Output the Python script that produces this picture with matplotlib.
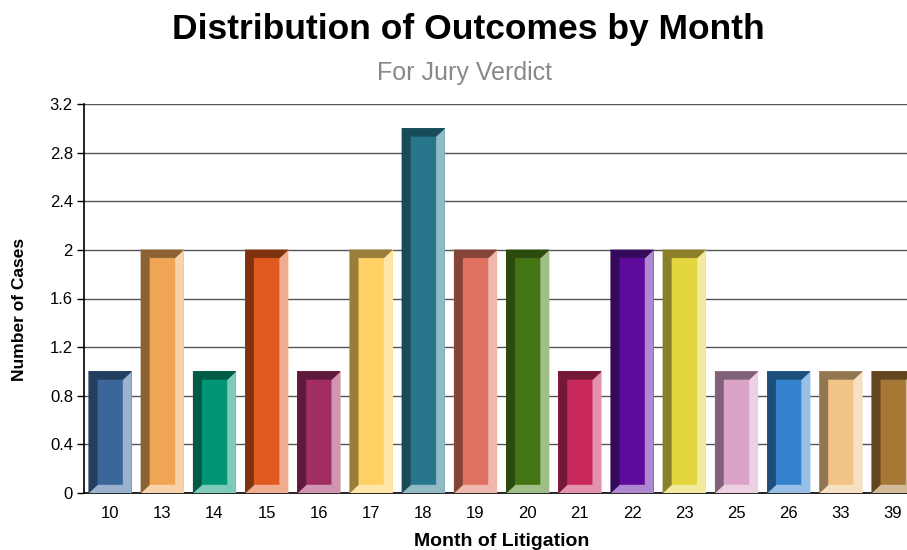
import matplotlib
matplotlib.use("Agg")
import matplotlib.pyplot as plt
from matplotlib.patches import Polygon

plt.rcParams['font.family'] = ['Liberation Sans', 'DejaVu Sans']

# ---- data ----
months = ["10", "13", "14", "15", "16", "17", "18", "19", "20", "21", "22", "23", "25", "26", "33", "39"]
cases = [1, 2, 1, 2, 1, 2, 3, 2, 2, 1, 2, 2, 1, 1, 1, 1]
yticks = [0, 0.4, 0.8, 1.2, 1.6, 2, 2.4, 2.8, 3.2]
ytick_labels = ["0", "0.4", "0.8", "1.2", "1.6", "2", "2.4", "2.8", "3.2"]

# ---- style ----
face = ["#3A6699", "#F0A556", "#009573", "#E05A20", "#A22D63", "#FFD064", "#27768C", "#E07060",
        "#437515", "#C8295A", "#5E0A9A", "#E3D63E", "#DCA3C8", "#3282CE", "#F1C387", "#A67635"]
dark = ["#233F5F", "#8D6232", "#005A45", "#7F3210", "#5E1A3A", "#9A7D3A", "#174B57", "#84443A",
        "#2A4A0E", "#731836", "#360A5A", "#8A7E28", "#806177", "#1E4E7A", "#917651", "#634620"]
light = ["#9AB2CD", "#F7D2AA", "#7FCAB9", "#EFAC8F", "#D096B1", "#FFE6A8", "#93BBC5", "#EFB8AE",
         "#A2BE88", "#E394AC", "#AE88D0", "#F2EA9F", "#EDD1E3", "#98C0E6", "#F8E1C3", "#D2BA9A"]

W, H = 907, 550
fig = plt.figure(figsize=(W / 100, H / 100), dpi=100)
ax_left, ax_bottom, ax_top = 84, 493, 104
slot = 52.2
ax = fig.add_axes([ax_left / W, (H - ax_bottom) / H, len(months) * slot / W, (ax_bottom - ax_top) / H])

x = list(range(len(months)))
bw = 0.82
ax.set_xlim(-0.5, len(months) - 0.5)
ax.set_ylim(0, 3.2)

bars = ax.bar(x, cases, width=bw, color=face, zorder=3, linewidth=0)

# bevel sizes in data units (~8 px)
bx = 8.5 / slot
by = 8 * 3.2 / (ax_bottom - ax_top)
for i, b in enumerate(bars):
    x0 = b.get_x(); x1 = x0 + b.get_width()
    y0 = 0; y1 = b.get_height()
    ix0, ix1, iy0, iy1 = x0 + bx, x1 - bx, y0 + by, y1 - by
    polys = [
        ([(x1, y1), (x1, y0), (ix1, iy0), (ix1, iy1)], light[i]),
        ([(x0, y0), (x1, y0), (ix1, iy0), (ix0, iy0)], light[i]),
        ([(x0, y0), (x0, y1), (ix0, iy1), (ix0, iy0)], dark[i]),
        ([(x0, y1), (x1, y1), (ix1, iy1), (ix0, iy1)], dark[i]),
    ]
    for pts, c in polys:
        ax.add_patch(Polygon(pts, closed=True, facecolor=c, edgecolor=c, linewidth=0.3, zorder=4))

ax.set_yticks(yticks)
ax.set_yticklabels(ytick_labels, fontsize=12)
ax.set_xticks(x)
ax.set_xticklabels(months, fontsize=12)
ax.tick_params(axis='x', length=0, pad=9)
ax.tick_params(axis='y', length=5, width=1, pad=3, color='black')
ax.yaxis.grid(True, color='#555555', linewidth=1, zorder=0)
ax.set_axisbelow(True)
for s in ['top', 'right']:
    ax.spines[s].set_visible(False)
for s in ['left', 'bottom']:
    ax.spines[s].set_color('black')
    ax.spines[s].set_linewidth(1.2)

ax.set_ylabel("Number of Cases", fontsize=12.5, fontweight='bold')
ax.yaxis.set_label_coords(-57 / (len(months) * slot), 0.472)
ax.set_xlabel("Month of Litigation", fontsize=14, fontweight='bold', labelpad=9)

fig.text(468 / W, 1 - 30 / H, "Distribution of Outcomes by Month", ha='center', va='center',
         fontsize=25.5, fontweight='bold')
fig.text(465 / W, 1 - 73 / H, "For Jury Verdict", ha='center', va='center', fontsize=18, color='#888888')

fig.savefig("out.png", dpi=100)
